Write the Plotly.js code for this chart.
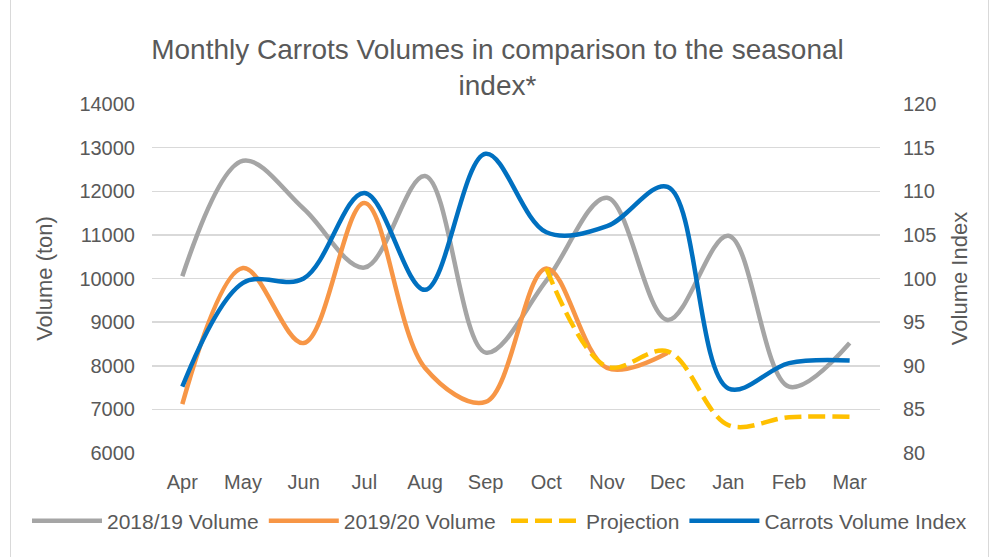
<!DOCTYPE html>
<html><head><meta charset="utf-8">
<script src="https://cdn.plot.ly/plotly-3.0.1.min.js"></script>
<style>
html,body{margin:0;padding:0;background:#fff;}
#frame{position:absolute;left:10px;top:-2px;width:977px;height:570px;border:1px solid #d9d9d9;}
#chart{position:absolute;left:0;top:0;width:995px;height:557px;}
</style>
</head><body>
<div id="frame"></div>
<div id="chart"></div>
<script>
const months = ["Apr","May","Jun","Jul","Aug","Sep","Oct","Nov","Dec","Jan","Feb","Mar"];
const vol1819 = [10050,12700,11600,10250,12350,8300,9950,11850,9050,10980,7520,8520];
const vol1920 = [7120,10240,8520,11730,7950,7170,10230,7950,8300,null,null,null];
const projection = [null,null,null,null,null,null,10230,7980,8330,6640,6820,6830];
const volIndex = [87.6,99.5,100,109.8,98.7,114.3,105.3,106,110.5,87.4,90.3,90.6];

const fnt = "Liberation Sans, Arial, sans-serif";
const txt = "#595959";

const traces = [
  {x: months, y: vol1819, name: "2018/19 Volume", type: "scatter", mode: "lines", legend: "legend",
   line: {color: "#a5a5a5", width: 4.5, shape: "spline", smoothing: 1}},
  {x: months, y: vol1920, name: "2019/20 Volume", type: "scatter", mode: "lines", legend: "legend",
   line: {color: "#f79646", width: 4.5, shape: "spline", smoothing: 1}},
  {x: months, y: projection, name: "Projection", type: "scatter", mode: "lines", legend: "legend2",
   line: {color: "#ffc000", width: 4.5, shape: "spline", smoothing: 1, dash: "17px,7px"}},
  {x: months, y: volIndex, name: "Carrots Volume Index", type: "scatter", mode: "lines", yaxis: "y2", legend: "legend2",
   line: {color: "#0070c0", width: 4.5, shape: "spline", smoothing: 1}}
];

const legendBase = {orientation: "h", xref: "container", xanchor: "left", yref: "container", y: 0.0646, yanchor: "middle",
           font: {size: 21, color: txt}, itemwidth: 70, traceorder: "normal", bgcolor: "rgba(0,0,0,0)"};

const layout = {
  width: 995, height: 557,
  margin: {l: 152, r: 115, t: 104, b: 104},
  paper_bgcolor: "rgba(0,0,0,0)", plot_bgcolor: "rgba(0,0,0,0)",
  font: {family: fnt, color: txt, size: 20},
  title: {text: "Monthly Carrots Volumes in comparison to the seasonal<br>index*",
          font: {family: fnt, size: 28, color: txt}, x: 0.5, xanchor: "center",
          xref: "container", yref: "container", y: 0.894, yanchor: "middle"},
  xaxis: {type: "category", range: [-0.5, 11.5], showgrid: false, zeroline: false,
          showline: false, ticks: "", tickfont: {size: 20, color: txt}, ticklabelstandoff: 15},
  yaxis: {range: [6000, 14000], dtick: 1000, tickformat: "d", showgrid: true, gridcolor: "#d9d9d9", gridwidth: 1.5,
          zeroline: false, showline: false, ticks: "", tickfont: {size: 20, color: txt},
          ticklabelstandoff: 16,
          title: {text: "Volume (ton)", font: {size: 22, color: txt}, standoff: 20}},
  yaxis2: {range: [80, 120], dtick: 5, overlaying: "y", side: "right", showgrid: false,
           zeroline: false, showline: false, ticks: "", tickfont: {size: 20, color: txt},
           ticklabelstandoff: 22,
           title: {text: "Volume Index", font: {size: 22, color: txt}, standoff: 16}},
  legend: Object.assign({}, legendBase, {x: 27/995}),
  legend2: Object.assign({}, legendBase, {x: 506/995}),
  showlegend: true
};

Plotly.newPlot("chart", traces, layout, {displayModeBar: false, staticPlot: true});
</script>
</body></html>
